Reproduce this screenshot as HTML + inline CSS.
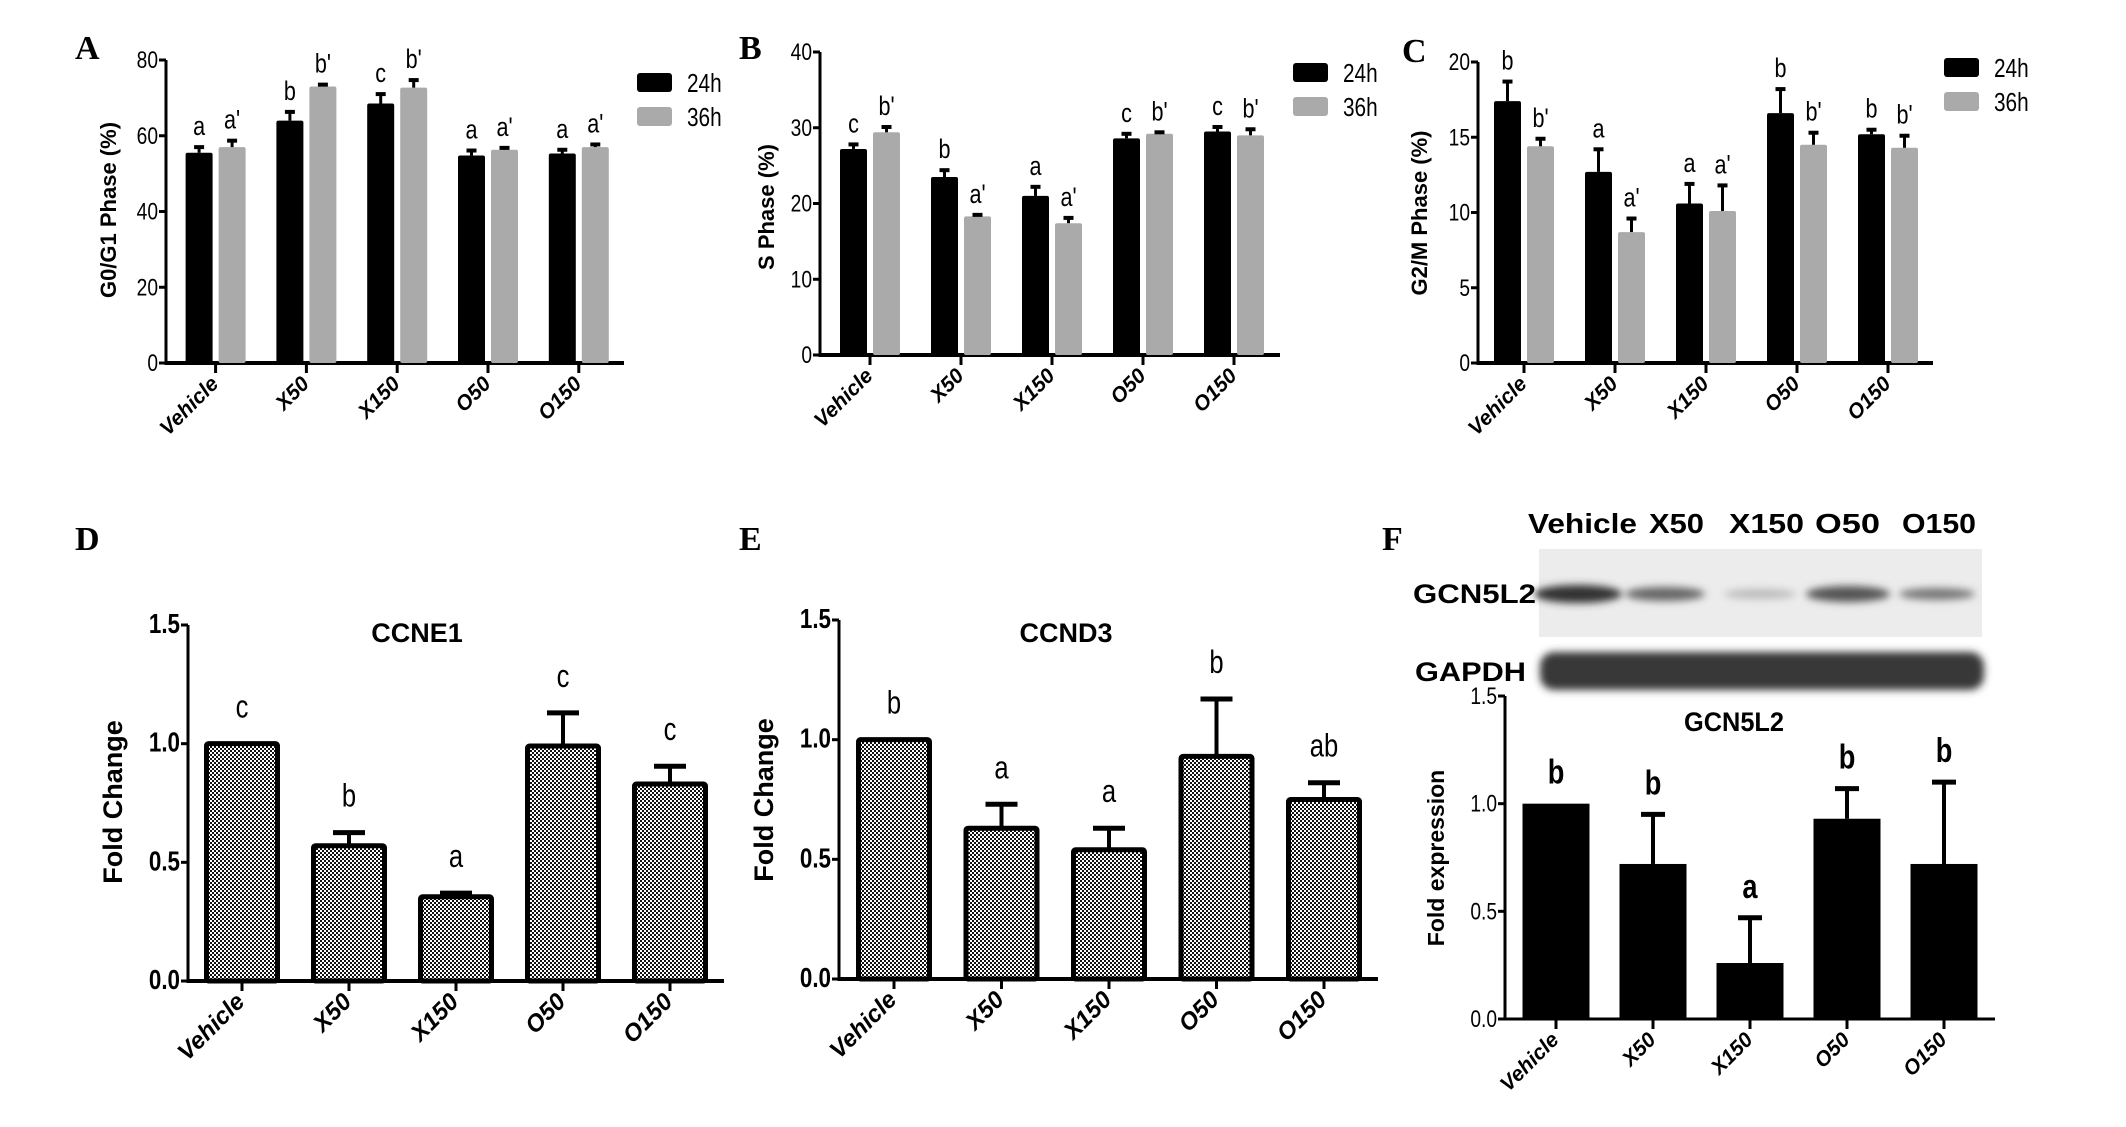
<!DOCTYPE html>
<html><head><meta charset="utf-8"><style>
body{margin:0;background:#fff;}
svg{display:block;}
text{font-family:"Liberation Sans",Arial,sans-serif;}
.pl{font-family:"Liberation Serif",serif;font-weight:bold;font-size:34px;}
</style></head><body>
<svg id="fig" width="2126" height="1127" viewBox="0 0 2126 1127">
<defs>
<pattern id="chk" width="4" height="4" patternUnits="userSpaceOnUse">
<rect width="4" height="4" fill="#fff"/><rect width="2" height="2" fill="#111"/><rect x="2" y="2" width="2" height="2" fill="#111"/>
</pattern>
<filter id="blur"><feGaussianBlur stdDeviation="4"/></filter>
</defs>
<text class="pl" x="75" y="59">A</text>
<text class="pl" x="739" y="59">B</text>
<text class="pl" x="1402" y="62">C</text>
<text class="pl" x="75" y="550">D</text>
<text class="pl" x="739" y="550">E</text>
<text class="pl" x="1382" y="550">F</text>
<g id="blot">
<text x="1528" y="533" font-size="28" font-weight="bold" textLength="109" lengthAdjust="spacingAndGlyphs">Vehicle</text>
<text x="1649" y="533" font-size="28" font-weight="bold" textLength="55" lengthAdjust="spacingAndGlyphs">X50</text>
<text x="1729" y="533" font-size="28" font-weight="bold" textLength="75" lengthAdjust="spacingAndGlyphs">X150</text>
<text x="1815" y="533" font-size="28" font-weight="bold" textLength="65" lengthAdjust="spacingAndGlyphs">O50</text>
<text x="1902" y="533" font-size="28" font-weight="bold" textLength="74" lengthAdjust="spacingAndGlyphs">O150</text>
<rect x="1539" y="549" width="443" height="88" fill="#ececec"/>
<text x="1413" y="603" font-size="27" font-weight="bold" textLength="123" lengthAdjust="spacingAndGlyphs">GCN5L2</text>
<text x="1415" y="681" font-size="27" font-weight="bold" textLength="111" lengthAdjust="spacingAndGlyphs">GAPDH</text>
<g filter="url(#blur)">
<ellipse cx="1578" cy="594" rx="44" ry="9" fill="#333"/>
<ellipse cx="1665" cy="594" rx="40" ry="7" fill="#666"/>
<ellipse cx="1760" cy="594" rx="36" ry="5" fill="#bbb"/>
<ellipse cx="1848" cy="594" rx="42" ry="8" fill="#555"/>
<ellipse cx="1937" cy="594" rx="38" ry="6" fill="#777"/>
<rect x="1540" y="652" width="444" height="38" rx="14" fill="#383838"/>
</g>
</g>
<text x="1734" y="731" font-size="27" font-weight="bold" text-anchor="middle" textLength="100" lengthAdjust="spacingAndGlyphs">GCN5L2</text>
<text x="417" y="642" font-size="27" font-weight="bold" text-anchor="middle">CCNE1</text>
<text x="1066" y="642" font-size="27" font-weight="bold" text-anchor="middle">CCND3</text>
</svg>
<script>
const cats=["Vehicle","X50","X150","O50","O150"];
const aVal24=[55.5,64,68.5,54.8,55.3], aErr24=[1.5,2.3,2.5,1.3,1], aVal36=[57,73,72.7,56.3,57], aErr36=[1.7,0.5,2,0.5,0.7];
const aLet24=["a","b","c","a","a"], aLet36=["a'","b'","b'","a'","a'"], aTicks=[0,20,40,60,80];
const bVal24=[27.2,23.5,21,28.6,29.5], bErr24=[0.6,0.9,1.2,0.6,0.6], bVal36=[29.4,18.3,17.4,29.2,29], bErr36=[0.7,0.2,0.7,0.2,0.8];
const bLet24=["c","b","a","c","c"], bLet36=["b'","a'","a'","b'","b'"], bTicks=[0,10,20,30,40];
const cVal24=[17.4,12.7,10.6,16.6,15.2], cErr24=[1.3,1.5,1.3,1.6,0.3], cVal36=[14.4,8.7,10.1,14.5,14.3], cErr36=[0.5,0.9,1.7,0.8,0.8];
const cLet24=["b","a","a","b","b"], cLet36=["b'","a'","a'","b'","b'"], cTicks=[0,5,10,15,20];
const dVal=[1.0,0.57,0.355,0.99,0.83], dErr=[0,0.055,0.015,0.14,0.075], dLet=["c","b","a","c","c"];
const eVal=[1.0,0.63,0.54,0.93,0.75], eErr=[0,0.1,0.09,0.24,0.07], eLet=["b","a","a","b","ab"];
const fVal=[1.0,0.72,0.26,0.93,0.72], fErr=[0,0.23,0.21,0.14,0.38], fLet=["b","b","a","b","b"];
const foldTicks=[0,0.5,1.0,1.5];

const svg=document.getElementById('fig');
const NS='http://www.w3.org/2000/svg';
function mk(tag,attrs,txt){const e=document.createElementNS(NS,tag);for(const k in attrs)e.setAttribute(k,attrs[k]);if(txt!==undefined)e.textContent=txt;svg.appendChild(e);return e;}
// condensed text: place at origin and transform
function ntext(x,y,attrs,txt){attrs.x=0;attrs.y=0;attrs.transform=`translate(${x} ${y}) scale(0.8 1)`;return mk('text',attrs,txt);}

function axes(cfg){
  const y=v=>cfg.y0-(v-cfg.ticks[0])/(cfg.max)*(cfg.y0-cfg.yTop);
  let e=mk('line',{x1:cfg.ax,y1:y(cfg.max),x2:cfg.ax,y2:cfg.y0,stroke:'#000','stroke-width':3});
  
  
  e=mk('line',{x1:cfg.ax-1.5,y1:cfg.y0,x2:cfg.axEnd,y2:cfg.y0,stroke:'#000','stroke-width':cfg.xw||4});
  
  
  cfg.ticks.forEach(t=>{
    e=mk('line',{x1:cfg.ax-7,y1:y(t),x2:cfg.ax,y2:y(t),stroke:'#000','stroke-width':3});
    
    
    e=ntext(cfg.ax-8,y(t)+8,{'font-size':cfg.tfs||24,'text-anchor':'end','font-weight':cfg.tb?'bold':'normal'},cfg.fmt?t.toFixed(1):String(t));
    
    
  });
  cats.forEach((c,i)=>{
    const x=cfg.x0+i*cfg.dx;
    e=mk('line',{x1:x,y1:cfg.y0,x2:x,y2:cfg.y0+10,stroke:'#000','stroke-width':3});
    
    
    e=mk('text',{x:x+4,y:cfg.y0+22,'font-size':cfg.xfs||21,'font-weight':'bold','font-style':'italic','text-anchor':'end',transform:`rotate(-45 ${x+4} ${cfg.y0+22})`},c);
    
    
  });
  e=mk('text',{x:cfg.tx,y:cfg.ty,'font-size':cfg.yfs||22,'font-weight':'bold','text-anchor':'middle',transform:`rotate(-90 ${cfg.tx} ${cfg.ty})`},cfg.title);
  
  
  return y;
}
function errbar(x,yTop,yBar,cap,w,p){
  let e=mk('line',{x1:x,y1:yTop,x2:x,y2:yBar,stroke:'#000','stroke-width':w});
  
  
  e=mk('line',{x1:x-cap,y1:yTop,x2:x+cap,y2:yTop,stroke:'#000','stroke-width':w+1});
  
  
}
function grouped(cfg,v24,e24,v36,e36,l24,l36){
  const y=axes(cfg);
  const bw=27, off=16.5;
  [[v24,e24,l24,'#000','24h',-off],[v36,e36,l36,'#aaa','36h',off]].forEach(s=>{
    s[0].forEach((v,i)=>{
      const cx=cfg.x0+i*cfg.dx+s[5];
      let e=mk('rect',{x:cx-bw/2,y:y(v),width:bw,height:cfg.y0-y(v),fill:s[3],rx:2});
      
      
      errbar(cx,y(v+s[1][i]),y(v),5,3,cfg.p);
      e=ntext(cx,y(v+s[1][i])-12,{'font-size':27,'text-anchor':'middle'},s[2][i]);
      
      
    });
  });
  [['#000','24h',cfg.ly],['#aaa','36h',cfg.ly+34]].forEach(l=>{
    let e=mk('rect',{x:cfg.lx,y:l[2],width:35,height:19,rx:3,fill:l[0]});
    
    
    e=ntext(cfg.lx+50,l[2]+19,{'font-size':26},l[1]);
    
    
  });
}
function single(cfg,vals,errs,lets){
  const y=axes(cfg);
  vals.forEach((v,i)=>{
    const cx=cfg.x0+i*cfg.dx;
    const yt=y(v+errs[i]);
    if(errs[i]>0) errbar(cx,yt,y(v),cfg.cap,cfg.ew,cfg.p);
    let e;
    if(cfg.solid){
      e=mk('rect',{x:cx-cfg.bw/2,y:y(v),width:cfg.bw,height:cfg.y0-y(v),fill:'#000'});
    } else {
      e=mk('rect',{x:cx-cfg.bw/2,y:y(v),width:cfg.bw,height:cfg.y0-y(v),fill:'url(#chk)',stroke:'#000','stroke-width':5,rx:2});
    }
    
    
    e=ntext(cx,yt-(cfg.solid?20:26),{'font-size':cfg.solid?34:32,'font-weight':cfg.solid?'bold':'normal','text-anchor':'middle'},lets[i]);
    
    
  });
}
grouped({p:'a',ax:166,axEnd:624,y0:363,yTop:60,max:80,ticks:aTicks,x0:215.6,dx:90.8,tx:116,ty:210,title:'G0/G1 Phase (%)',lx:637,ly:73},aVal24,aErr24,aVal36,aErr36,aLet24,aLet36);
grouped({p:'b',ax:820,axEnd:1280,y0:355,yTop:52,max:40,ticks:bTicks,x0:870,dx:91,tx:774,ty:207,title:'S Phase (%)',lx:1293,ly:63},bVal24,bErr24,bVal36,bErr36,bLet24,bLet36);
grouped({p:'c',ax:1478,axEnd:1933,y0:363,yTop:62,max:20,ticks:cTicks,x0:1524,dx:91,tx:1427,ty:213,title:'G2/M Phase (%)',lx:1944,ly:58},cVal24,cErr24,cVal36,cErr36,cLet24,cLet36);
single({p:'d',ax:188,axEnd:724,y0:981,yTop:625,max:1.5,ticks:foldTicks,fmt:1,x0:242,dx:107,tx:122,ty:802,title:'Fold Change',yfs:27,tfs:28,tb:1,xfs:24,xw:4,bw:71,cap:16,ew:4},dVal,dErr,dLet);
single({p:'e',ax:839,axEnd:1378,y0:979,yTop:620,max:1.5,ticks:foldTicks,fmt:1,x0:894,dx:107.5,tx:773,ty:800,title:'Fold Change',yfs:27,tfs:28,tb:1,xfs:24,xw:4,bw:71,cap:16,ew:4},eVal,eErr,eLet);
single({p:'f',ax:1505,axEnd:1995,y0:1019,yTop:696,max:1.5,ticks:foldTicks,fmt:1,x0:1556,dx:97,tx:1444,ty:858,title:'Fold expression',yfs:23,tfs:24,xfs:21,xw:3,bw:67,cap:12,ew:4,solid:1},fVal,fErr,fLet);
</script>
</body></html>
